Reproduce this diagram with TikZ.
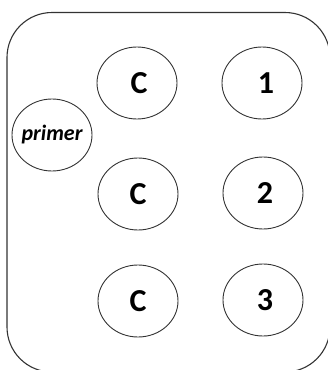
\documentclass[tikz,border=0pt]{standalone}
\usepackage{fontspec}
\setmainfont{Carlito}
\usetikzlibrary{shapes.geometric}
\tikzset{
  oval/.style={draw=black!80, line width=0.9pt, ellipse, minimum width=80pt, minimum height=72pt, inner sep=0pt, font=\fontsize{32}{32}\selectfont\bfseries},
  frame/.style={draw=black!80, line width=1.1pt, rounded corners=45pt}
}
\begin{document}
\begin{tikzpicture}[x=1pt,y=-1pt]
\useasboundingbox (0,0) rectangle (328,370);
\draw[frame] (7,12.5) rectangle (330,372);
\node[oval] (c1) at (137,83) {\hspace*{4pt}C};
\node[oval] (n1) at (262,83) {\hspace*{8pt}1};
\node[oval, label={[font=\fontsize{22}{22}\selectfont\bfseries\itshape, inner sep=0pt]center:primer}] (pr) at (52,135) {};
\node[oval] (c2) at (138,194) {C};
\node[oval] (n2) at (263,193) {\hspace*{4pt}2};
\node[oval] (c3) at (138,301) {C};
\node[oval] (n3) at (263,300) {\hspace*{4pt}3};
\end{tikzpicture}
\end{document}
